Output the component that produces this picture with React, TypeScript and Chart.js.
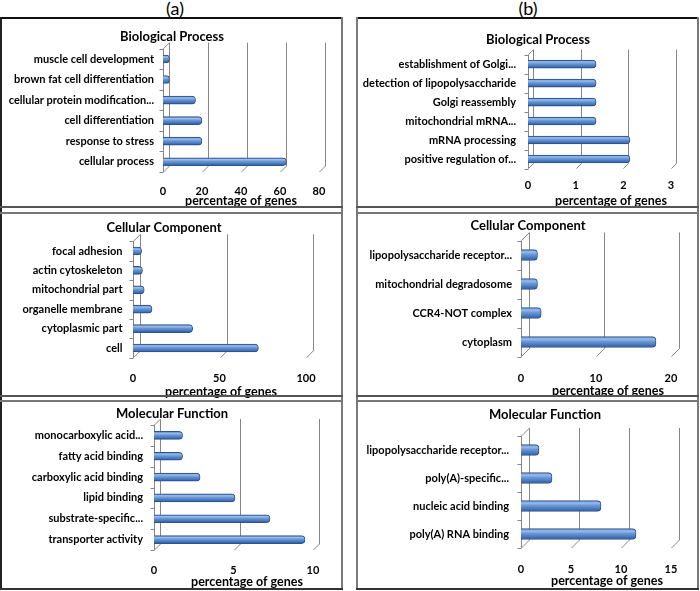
import React, { useEffect, useRef } from 'react';
import { Chart, registerables } from 'chart.js';

Chart.register(...registerables);

const FONT = 'Lato, "Liberation Sans", sans-serif';

// ---------- DATA ----------
// (a) Biological Process
const bpALabels = [
  'muscle cell development',
  'brown fat cell differentiation',
  'cellular protein modification...',
  'cell differentiation',
  'response to stress',
  'cellular process',
];
const bpAValues = [3.3, 3.3, 16.7, 20, 20, 63.3];
const bpAMax = 80;
const bpAStep = 20;

// (b) Biological Process
const bpBLabels = [
  'establishment of Golgi...',
  'detection of lipopolysaccharide',
  'Golgi reassembly',
  'mitochondrial mRNA...',
  'mRNA processing',
  'positive regulation of...',
];
const bpBValues = [1.43, 1.43, 1.43, 1.43, 2.14, 2.14];
const bpBMax = 3;
const bpBStep = 1;

// (a) Cellular Component
const ccALabels = [
  'focal adhesion',
  'actin cytoskeleton',
  'mitochondrial part',
  'organelle membrane',
  'cytoplasmic part',
  'cell',
];
const ccAValues = [5, 5.5, 6.5, 11, 34.5, 72.5];
const ccAMax = 100;
const ccAStep = 50;

// (b) Cellular Component
const ccBLabels = [
  'lipopolysaccharide receptor...',
  'mitochondrial degradosome',
  'CCR4-NOT complex',
  'cytoplasm',
];
const ccBValues = [2.2, 2.2, 2.7, 18];
const ccBMax = 20;
const ccBStep = 10;

// (a) Molecular Function
const mfALabels = [
  'monocarboxylic acid...',
  'fatty acid binding',
  'carboxylic acid binding',
  'lipid binding',
  'substrate-specific...',
  'transporter activity',
];
const mfAValues = [1.8, 1.8, 2.9, 5.1, 7.3, 9.5];
const mfAMax = 10;
const mfAStep = 5;

// (b) Molecular Function
const mfBLabels = [
  'lipopolysaccharide receptor...',
  'poly(A)-specific...',
  'nucleic acid binding',
  'poly(A) RNA binding',
];
const mfBValues = [1.8, 3.1, 8, 11.5];
const mfBMax = 15;
const mfBStep = 5;

const AXIS_TITLE = 'percentage of genes';

// ---------- LAYOUT ----------
type Panel = {
  key: string; x: number; y: number; w: number; h: number;
  title: string; labels: string[]; values: number[]; max: number; step: number;
  chartLeft: number; chartRight: number; chartTop: number; chartBottom: number;
  titleX: number; titleY: number; tickY: number; axisTitleX: number; axisTitleY: number; labelRight: number;
  depth: number; bar: number;
};

const PANELS: Panel[] = [
  { key: 'bpA', x: 3, y: 19, w: 338, h: 191, title: 'Biological Process', labels: bpALabels, values: bpAValues, max: bpAMax, step: bpAStep,
    chartLeft: 163, chartRight: 319, chartTop: 48.7, chartBottom: 172, titleX: 172, titleY: 37, tickY: 191, axisTitleX: 241, axisTitleY: 201, labelRight: 154, depth: 6, bar: 8 },
  { key: 'bpB', x: 358, y: 19, w: 339, h: 191, title: 'Biological Process', labels: bpBLabels, values: bpBValues, max: bpBMax, step: bpBStep,
    chartLeft: 528, chartRight: 671, chartTop: 54.6, chartBottom: 168.5, titleX: 538, titleY: 40, tickY: 185, axisTitleX: 611, axisTitleY: 201, labelRight: 516, depth: 5, bar: 8 },
  { key: 'ccA', x: 3, y: 214, w: 338, h: 186, title: 'Cellular Component', labels: ccALabels, values: ccAValues, max: ccAMax, step: ccAStep,
    chartLeft: 133, chartRight: 306, chartTop: 241.3, chartBottom: 357.7, titleX: 164, titleY: 228, tickY: 378, axisTitleX: 221, axisTitleY: 392, labelRight: 122.5, depth: 7, bar: 8 },
  { key: 'ccB', x: 358, y: 214, w: 339, h: 186, title: 'Cellular Component', labels: ccBLabels, values: ccBValues, max: ccBMax, step: ccBStep,
    chartLeft: 521, chartRight: 671, chartTop: 240.5, chartBottom: 356.5, titleX: 528, titleY: 226, tickY: 378, axisTitleX: 608, axisTitleY: 391, labelRight: 512, depth: 8, bar: 11 },
  { key: 'mfA', x: 3, y: 402, w: 338, h: 188, title: 'Molecular Function', labels: mfALabels, values: mfAValues, max: mfAMax, step: mfAStep,
    chartLeft: 154, chartRight: 313, chartTop: 425, chartBottom: 550, titleX: 172, titleY: 414, tickY: 570, axisTitleX: 247, axisTitleY: 582, labelRight: 143, depth: 6, bar: 8 },
  { key: 'mfB', x: 358, y: 402, w: 339, h: 188, title: 'Molecular Function', labels: mfBLabels, values: mfBValues, max: mfBMax, step: mfBStep,
    chartLeft: 521, chartRight: 671, chartTop: 436, chartBottom: 548, titleX: 545, titleY: 415, tickY: 569, axisTitleX: 607, axisTitleY: 581, labelRight: 509, depth: 8, bar: 11 },
];

const GRID = '#868686';
const AX_SIZE = 12.5;

const pseudo3d = {
  id: 'pseudo3d',
  beforeDatasetsDraw(chart: any, _args: any, opts: any) {
    const { ctx, chartArea, scales } = chart;
    const { left, top, bottom } = chartArea;
    const x = scales.x;
    const d = opts.depth || 6;
    const n = chart.data.labels.length;
    ctx.save();
    ctx.strokeStyle = GRID;
    ctx.lineWidth = 1;
    x.ticks.forEach((t: any) => {
      const px = Math.round(x.getPixelForValue(t.value)) + 0.5;
      ctx.beginPath();
      ctx.moveTo(px + d, top - d);
      ctx.lineTo(px + d, bottom - d);
      ctx.lineTo(px, bottom);
      ctx.stroke();
    });
    const lx = Math.round(left) + 0.5;
    ctx.beginPath();
    ctx.moveTo(lx + d, top - d);
    ctx.lineTo(lx, top);
    ctx.lineTo(lx, bottom);
    ctx.stroke();
    for (let i = 0; i <= n; i++) {
      const yy = Math.round(top + (i * (bottom - top)) / n) + 0.5;
      ctx.beginPath();
      ctx.moveTo(lx - 4, yy);
      ctx.lineTo(lx, yy);
      ctx.stroke();
    }
    ctx.restore();
  },
  afterDraw(chart: any, _args: any, opts: any) {
    if (!opts.axisTitle) return;
    const { ctx } = chart;
    ctx.save();
    ctx.fillStyle = '#000';
    ctx.font = `bold ${AX_SIZE}px ${FONT}`;
    ctx.textAlign = 'center';
    ctx.textBaseline = 'middle';
    ctx.fillText(opts.axisTitle, opts.axisX, opts.axisY);
    ctx.restore();
  },
};

function canvasWidth(p: Panel) {
  return Math.max(p.w, Math.ceil(2 * (p.titleX - p.x)));
}

function makeConfig(p: Panel): any {
  const W = canvasWidth(p);
  const H = p.h;
  const cl = p.chartLeft - p.x;
  const cr = p.chartRight - p.x;
  const ct = p.chartTop - p.y;
  const cb = p.chartBottom - p.y;
  const titleSize = 13;
  const titleLH = titleSize * 1.2;
  const padTop = p.titleY - p.y - titleLH / 2;
  const titlePadBottom = ct - padTop - titleLH;
  const padRight = Math.max(0, W - 2 * (p.titleX - p.x));
  const xPadRight = W - cr;
  const yWidth = cl;
  const padBottom = 0;
  const xHeight = H - cb;
  const tickSize = 11;
  const tickPad = p.tickY - p.y - cb - (tickSize * 1.2) / 2;
  const labelPad = cl - (p.labelRight - p.x);
  const thick = p.bar;

  return {
    type: 'bar',
    data: {
      labels: p.labels,
      datasets: [
        {
          data: p.values,
          barThickness: thick,
          borderColor: '#2c5590',
          borderWidth: 1,
          borderRadius: 4,
          borderSkipped: 'start',
          backgroundColor: (c: any) => {
            const chart = c.chart;
            const ys = chart.scales && chart.scales.y;
            if (!ys || c.dataIndex === undefined || !chart.chartArea) return '#4f81bd';
            const yc = ys.getPixelForValue(c.dataIndex);
            if (!isFinite(yc)) return '#4f81bd';
            const g = chart.ctx.createLinearGradient(0, yc - thick / 2, 0, yc + thick / 2);
            g.addColorStop(0, '#3a66a8');
            g.addColorStop(0.22, '#9dbfea');
            g.addColorStop(0.45, '#6a98d8');
            g.addColorStop(0.8, '#4373b8');
            g.addColorStop(1, '#2a4c80');
            return g;
          },
        },
      ],
    },
    options: {
      indexAxis: 'y',
      responsive: false,
      maintainAspectRatio: false,
      animation: false,
      events: [],
      layout: { padding: { top: padTop, left: 0, right: padRight, bottom: padBottom } },
      plugins: {
        legend: { display: false },
        tooltip: { enabled: false },
        title: {
          display: true,
          text: p.title,
          color: '#000',
          font: { family: FONT, size: titleSize, weight: 'bold', lineHeight: 1.2 },
          padding: { top: 0, bottom: titlePadBottom },
        },
        pseudo3d: {
          depth: p.depth,
          axisTitle: AXIS_TITLE,
          axisX: p.axisTitleX - p.x,
          axisY: p.axisTitleY - p.y,
        },
      },
      scales: {
        x: {
          type: 'linear',
          min: 0,
          max: p.max,
          ticks: {
            stepSize: p.step,
            color: '#000',
            padding: tickPad,
            font: { family: FONT, size: tickSize, weight: 'bold', lineHeight: 1.2 },
          },
          grid: { display: false, drawTicks: false },
          border: { display: false },
          title: { display: false },
          afterFit: (s: any) => {
            s.height = xHeight;
            s.paddingRight = xPadRight;
          },
        },
        y: {
          type: 'category',
          ticks: {
            color: '#000',
            padding: labelPad,
            autoSkip: false,
            font: { family: FONT, size: 11, weight: 'bold', lineHeight: 1.2 },
          },
          grid: { display: false, drawTicks: false },
          border: { display: false },
          afterFit: (s: any) => {
            s.width = yWidth;
          },
        },
      },
    },
    plugins: [pseudo3d],
  };
}

function PanelChart({ p }: { p: Panel }) {
  const ref = useRef<HTMLCanvasElement | null>(null);
  const W = canvasWidth(p);
  useEffect(() => {
    if (!ref.current) return;
    let chart: any = null;
    try {
      chart = new Chart(ref.current, makeConfig(p));
    } catch (e) {
      console.error(e);
    }
    return () => {
      if (chart) chart.destroy();
    };
  }, [p]);
  return (
    <canvas
      ref={ref}
      width={W}
      height={p.h}
      style={{ position: 'absolute', left: p.x, top: p.y, width: W, height: p.h }}
    />
  );
}

function Line({ l, t, w, h, c }: { l: number; t: number; w: number; h: number; c: string }) {
  return <div style={{ position: 'absolute', left: l, top: t, width: w, height: h, background: c, zIndex: 2 }} />;
}

export default function App() {
  const boxes = [
    { l: 0, r: 343 },
    { l: 356, r: 699 },
  ];
  return (
    <div style={{ position: 'absolute', left: 0, top: 0, width: 700, height: 591, background: '#fff', overflow: 'hidden' }}>
      <div style={{ position: 'absolute', left: 155, top: -3, width: 40, textAlign: 'center', font: `18px ${FONT}`, color: '#000' }}>(a)</div>
      <div style={{ position: 'absolute', left: 508, top: -3, width: 40, textAlign: 'center', font: `18px ${FONT}`, color: '#000' }}>(b)</div>
      {PANELS.map((p) => (
        <PanelChart key={p.key} p={p} />
      ))}
      {boxes.map((b, i) => (
        <React.Fragment key={i}>
          <Line l={b.l} t={17} w={b.r - b.l} h={2} c="#111" />
          <Line l={b.l} t={17} w={2} h={573} c={i === 0 ? '#222' : '#7a7a7a'} />
          <Line l={b.r - 2} t={17} w={2} h={573} c="#7a7a7a" />
          <Line l={b.l} t={206} w={b.r - b.l} h={2} c="#555" />
          <Line l={b.l} t={212} w={b.r - b.l} h={2} c="#777" />
          <Line l={b.l} t={395} w={b.r - b.l} h={2} c="#555" />
          <Line l={b.l} t={400} w={b.r - b.l} h={2} c="#777" />
          <Line l={b.l} t={588} w={b.r - b.l} h={2} c="#333" />
        </React.Fragment>
      ))}
    </div>
  );
}
